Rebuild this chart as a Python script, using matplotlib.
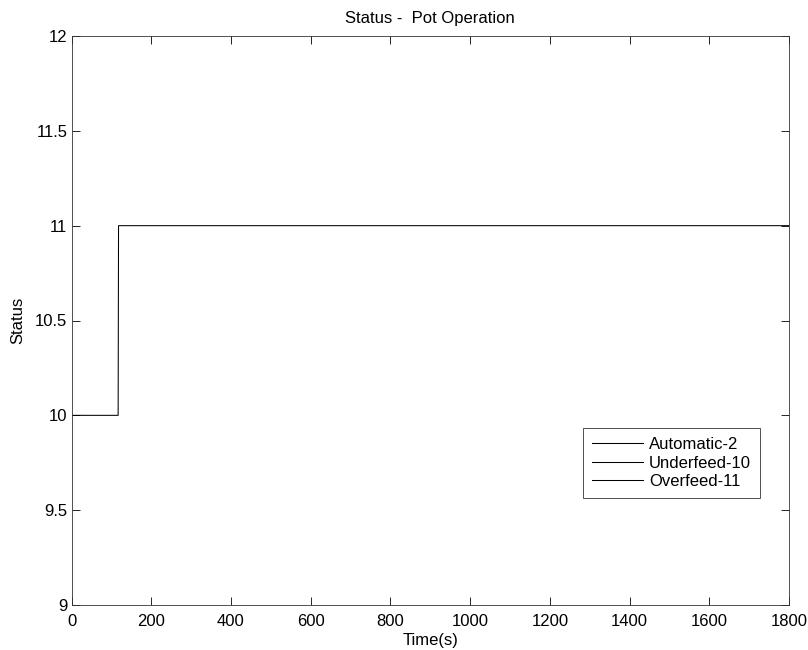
import matplotlib
matplotlib.use("Agg")
import matplotlib.pyplot as plt

# Pot operation status over time
time_s = [0, 117, 118, 1800]
status = [10, 10, 11, 11]

legend_labels = ["Automatic-2", "Underfeed-10", "Overfeed-11"]
x_ticks = [0, 200, 400, 600, 800, 1000, 1200, 1400, 1600, 1800]
y_ticks = [9, 9.5, 10, 10.5, 11, 11.5, 12]
y_tick_labels = ["9", "9.5", "10", "10.5", "11", "11.5", "12"]

plt.rcParams["font.family"] = ["Liberation Sans", "DejaVu Sans"]
plt.rcParams["font.size"] = 12

fig = plt.figure(figsize=(8.08, 6.5), dpi=100)
ax = fig.add_axes([71.5 / 808, 45 / 650, 717.5 / 808, 569 / 650])

ax.plot(time_s, status, color="black", linewidth=0.75, label=legend_labels[0])
# extra legend entries (no visible data of their own)
ax.plot([], [], color="black", linewidth=0.75, label=legend_labels[1])
ax.plot([], [], color="black", linewidth=0.75, label=legend_labels[2])

ax.set_xlim(0, 1800)
ax.set_ylim(9, 12)
ax.set_xticks(x_ticks)
ax.set_yticks(y_ticks)
ax.set_yticklabels(y_tick_labels)
ax.tick_params(direction="in", top=True, right=True, length=5.5, width=0.6,
               labelsize=12)
ax.tick_params(axis="x", pad=6.5)
ax.tick_params(axis="y", pad=3)
for sp in ax.spines.values():
    sp.set_linewidth(0.6)
    sp.set_color("#333333")

ax.set_title("Status -  Pot Operation", fontsize=12, pad=9.5)
ax.set_xlabel("Time(s)", labelpad=3)
ax.set_ylabel("Status", labelpad=7)

leg = ax.legend(loc="upper left", bbox_to_anchor=(0.713, 0.311), borderaxespad=0,
                fancybox=False, edgecolor="#333333", framealpha=1,
                handlelength=3.05, handletextpad=0.36, labelspacing=0.2,
                borderpad=0.55, fontsize=12)
leg.get_frame().set_linewidth(0.6)

fig.savefig("out.png", dpi=100)
